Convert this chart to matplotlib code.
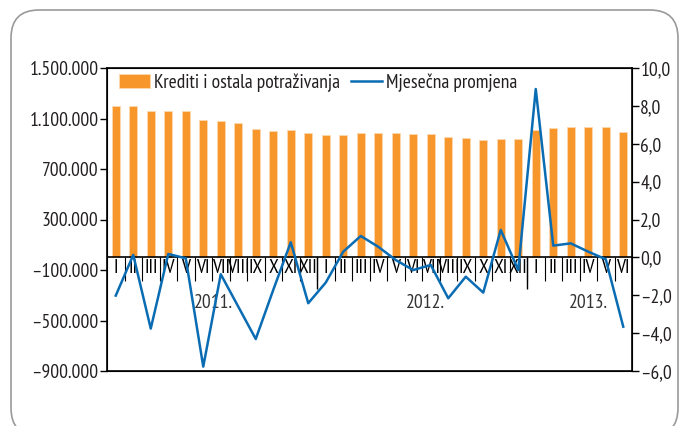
import matplotlib
matplotlib.use("Agg")
import matplotlib.pyplot as plt
from matplotlib import font_manager
from matplotlib.patches import FancyBboxPatch

# %%
# data: loans and other receivables (bars, left axis), monthly change in % (line, right axis)
months = ["I", "II", "III", "IV", "V", "VI", "VII", "VIII", "IX", "X", "XI", "XII"] * 2 + \
         ["I", "II", "III", "IV", "V", "VI"]
years = ["2011.", "2012.", "2013."]
year_pos = [5.6, 17.7, 27.0]
krediti = [1200000, 1200000, 1162000, 1162000, 1162000, 1091000, 1083000, 1062000, 1014000, 999000,
           1007000, 983000, 967000, 967000, 983000, 983000, 983000, 975000, 975000, 951000,
           943000, 930000, 935000, 935000, 1012000, 1022000, 1030000, 1030000, 1030000, 993000]
promjena = [-2.02, 0.13, -3.76, 0.18, -0.05, -5.77, -0.89, -2.6, -4.31, -1.72,
            0.80, -2.42, -1.33, 0.30, 1.13, 0.56, -0.14, -0.67, -0.40, -2.16,
            -1.02, -1.86, 1.45, -0.67, 8.89, 0.62, 0.74, 0.30, -0.10, -3.66]
left_ticks = [1500000, 1100000, 700000, 300000, -100000, -500000, -900000]
left_labels = ["1.500.000", "1.100.000", "700.000", "300.000", "\u2013100.000", "\u2013500.000", "\u2013900.000"]
right_ticks = [10, 8, 6, 4, 2, 0, -2, -4, -6]
right_labels = ["10,0", "8,0", "6,0", "4,0", "2,0", "0,0", "\u20132,0", "\u20134,0", "\u20136,0"]

# %%
installed = {f.name for f in font_manager.fontManager.ttflist}
fam = [f for f in ["PT Sans Narrow", "Roboto Condensed", "DejaVu Sans"] if f in installed]
plt.rcParams['font.family'] = fam
fs = {"PT Sans Narrow": 14, "Roboto Condensed": 12.5}.get(fam[0], 10.5)
txt = "#231F20"

W, H = 679, 426
fig = plt.figure(figsize=(W / 100, H / 100), dpi=100)
# rounded frame around the whole chart (inches)
box = FancyBboxPatch((0.11, -0.10), 6.67, 4.26, boxstyle="round,pad=0,rounding_size=0.28",
                     transform=fig.dpi_scale_trans, fill=False, edgecolor="#9a9a9a", linewidth=1.2)
fig.patches.append(box)

ax = fig.add_axes([107 / W, (H - 371) / H, 525 / W, 303 / H])
x = list(range(len(krediti)))
b = ax.bar(x, krediti, width=0.48, color="#F7962B", edgecolor="#FCD9B0", linewidth=0.6,
           label="Krediti i ostala potraživanja", zorder=2)
ax.set_xlim(-0.5, len(krediti) - 0.5)
ax.set_ylim(-900000, 1500000)
ax.set_yticks(left_ticks)
ax.set_yticklabels(left_labels, fontsize=fs, color=txt)
ax.tick_params(axis="y", direction="out", length=5, width=1, pad=1)
ax.set_xticks([])
for s in ax.spines.values():
    s.set_linewidth(1.2)
ax.axhline(0, color="black", linewidth=1.2, zorder=3)

ax2 = ax.twinx()
ln, = ax2.plot(x, promjena, color="#0A6CB3", linewidth=1.8, label="Mjesečna promjena", zorder=4)
ax2.set_ylim(-6, 10)
ax2.set_yticks(right_ticks)
ax2.set_yticklabels(right_labels, fontsize=fs, color=txt)
ax2.tick_params(axis="y", direction="out", length=5, width=1, pad=1)

# month labels along the zero line
sec = ax.secondary_xaxis(0.375)
sec.spines["bottom"].set_visible(False)
sec.set_xticks([i - 0.5 for i in range(1, len(months))])
sec.set_xticklabels([])
sec.set_xticks(x, minor=True)
sec.set_xticklabels(months, minor=True, fontsize=fs, color="black")
sec.tick_params(axis="x", which="major", direction="out", length=17, width=0.8)
sec.tick_params(axis="x", which="minor", length=0, pad=1)
ax.vlines([11.5, 23.5], -250000, 0, color="black", linewidth=1.0, zorder=3)

for yl, xp in zip(years, year_pos):
    ax.text(xp, 0.224, yl, transform=ax.get_xaxis_transform(), ha="center", va="center",
            fontsize=fs, color="#333333")

leg = ax.legend([b, ln], [b.get_label(), ln.get_label()], loc="upper left", ncol=2, frameon=False,
                fontsize=fs, bbox_to_anchor=(0.0, 1.02), handlelength=1.6, handletextpad=0.2,
                columnspacing=0.6, borderaxespad=0.2, labelcolor=txt)
leg.set_zorder(5)

fig.savefig("out.png", dpi=100)
